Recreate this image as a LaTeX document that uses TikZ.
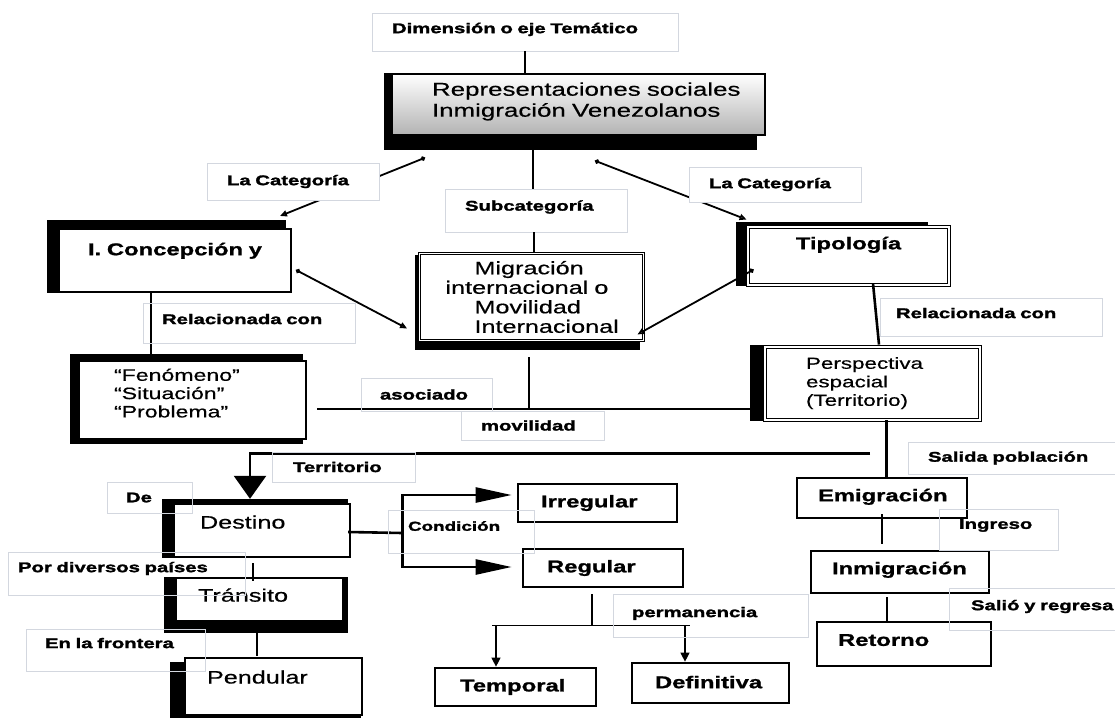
\documentclass[tikz,border=0pt]{standalone}
\usepackage{fontspec}
\setmainfont{Liberation Sans}
\newfontfamily\rfont{Liberation Sans}[FakeStretch=1.4, UprightFeatures={FakeBold=0.5}, BoldFeatures={FakeBold=1.2}]
\newfontfamily\lfont{Liberation Sans}[FakeStretch=1.45, BoldFeatures={FakeBold=1.8}]
\usetikzlibrary{arrows.meta,calc,backgrounds}
\definecolor{lbgray}{HTML}{D3D7DF}
\newcommand\padl[1]{\hspace*{#1pt}}
\newcommand\upby[1]{\rule[-#1pt]{0pt}{0pt}}
\tikzset{
  bx/.style={draw=black, fill=white, line width=2pt, inner sep=0pt, align=left},
  dbx/.style={bx, line width=0.9pt, double=white, double distance=1.4pt},
  rg/.style={font=\rfont\fontsize{18}{19.5}\selectfont},
  rgs/.style={font=\rfont\fontsize{16.5}{18.3}\selectfont},
  bd/.style={font=\rfont\bfseries\fontsize{17}{19}\selectfont},
  lb/.style={draw=lbgray, line width=0.9pt, inner sep=0pt, align=left, font=\lfont\bfseries\fontsize{14}{16}\selectfont},
  lbw/.style={lb, fill=white},
  conn/.style={line width=2.6pt},
  darr/.style={line width=1.8pt, {Circle[length=4.5pt]}-{Triangle[open,length=7pt,width=6pt]}},
  bigarr/.style={conn, -{Triangle[length=36pt,width=15pt]}},
  thinl/.style={line width=1.2pt},
  thinarr/.style={line width=1.2pt, -{Triangle[length=9pt,width=9pt]}},
}
\begin{document}
\begin{tikzpicture}[x=1pt,y=-1pt]
\useasboundingbox (0,0) rectangle (1115,717);
% ---------- boxes ----------
\node[bx, line width=1.5pt, top color=white, bottom color=black!30, minimum width=373pt, minimum height=61pt, text width=373pt, font=\rfont\fontsize{18.5}{21}\selectfont] (main) at (578.5,104.5) {\padl{40}Representaciones sociales\\\padl{40}Inmigración Venezolanos\upby{10}};
\node[bx, bd, align=center, minimum width=232pt, minimum height=63pt, text width=232pt] (conc) at (175,260.5) {I. Concepción y\upby{23}};
\node[bx, rgs, minimum width=227pt, minimum height=78pt, text width=227pt] (fen) at (192.5,400) {\padl{35}“Fenómeno”\\\padl{35}“Situación”\\\padl{35}“Problema”\upby{14}};
\node[dbx, bd, align=center, minimum width=201pt, minimum height=58pt, text width=201pt] (tip) at (848.5,256) {Tipología\upby{26}};
\node[dbx, rg, minimum width=224pt, minimum height=87pt, text width=224pt] (mig) at (531.5,297) {\padl{55}Migración\\\padl{26}internacional o\\\padl{55}Movilidad\\\padl{55}Internacional};
\node[dbx, rgs, font=\rfont\fontsize{16}{18.5}\selectfont, minimum width=215pt, minimum height=73pt, text width=215pt] (persp) at (872.5,383.5) {\padl{41}Perspectiva\\\padl{41}espacial\\\padl{41}(Territorio)\upby{4}};
\node[bx, rg, line width=2.4pt, minimum width=176pt, minimum height=53pt, text width=176pt] (dest) at (262,530.5) {\padl{26}Destino\upby{17}};
\node[bx, rg, line width=2.4pt, minimum width=167pt, minimum height=43pt, text width=167pt] (trans) at (259.5,599.5) {\padl{22}Tránsito\upby{9}};
\node[bx, rg, line width=2.4pt, minimum width=177pt, minimum height=57pt, text width=177pt] (pend) at (273.5,686.5) {\padl{22}Pendular\upby{19}};
\node[bx, bd, line width=2.7pt, minimum width=159pt, minimum height=38pt, text width=159pt] (irr) at (597.5,503) {\padl{23}Irregular};
\node[bx, bd, line width=2.7pt, minimum width=160pt, minimum height=38pt, text width=160pt] (reg) at (603,568) {\padl{24}Regular};
\node[bx, bd, line width=2.7pt, minimum width=161pt, minimum height=38pt, text width=161pt] (temp) at (515.5,687) {\padl{25}Temporal\upby{3}};
\node[bx, bd, line width=2.7pt, minimum width=157pt, minimum height=40pt, text width=157pt] (def) at (710.5,683) {\padl{23}Definitiva\upby{2}};
\node[bx, bd, minimum width=170pt, minimum height=40pt, text width=170pt] (emig) at (882,498) {\padl{21}Emigración\upby{6}};
\node[bx, bd, minimum width=178pt, minimum height=42pt, text width=178pt] (inmig) at (900,572) {\padl{21}Inmigración\upby{8}};
\node[bx, bd, minimum width=174pt, minimum height=44pt, text width=174pt] (ret) at (904,644) {\padl{21}Retorno\upby{8}};
% ---------- labels needed by connectors ----------
\node[lb, minimum width=306pt, minimum height=38pt, text width=306pt] (dim) at (525,32) {\padl{20}Dimensión o eje Temático\upby{8}};
\node[lbw, minimum width=182pt, minimum height=43pt, text width=182pt] (sub) at (536,210.5) {\padl{20}Subcategoría\upby{10}};
% ---------- connectors ----------
\coordinate (mainbot) at ($(main.south)+(0,14)$);
\draw[conn] (dim.south) -- (dim.south |- main.north);
\draw[conn] ($(mainbot -| sub.north)+(-3,0)$) -- ($(sub.north)+(-3,0)$);
\draw[conn] ($(sub.south)+(-2,0)$) -- ($(sub.south |- mig.north)+(-2,0)$);
\draw[darr] ($(main.south)+(-153.5,22)$) -- ($(conc.north east)+(-12,-12)$);
\draw[darr] ($(main.south)+(16.5,25)$) -- ($(tip.north west)+(-1,-7)$);
\draw[darr] ($(conc.east)+(4,9.5)$) -- ($(mig.south west)+(-12,-12.5)$);
\draw[darr] ($(tip.west)+(6,13.6)$) -- ($(mig.south east)+(-6.5,-6.5)$);
\draw[conn] ($(conc.south)+(-24,0)$) -- ($(fen.north)+(-41.5,-6)$);
\coordinate (hL) at ($(fen.east)+(10,9)$);
\draw[conn] (hL) -- ($(hL -| persp.west)+(-15,0)$);
\draw[conn] ($(mig.south)+(-2.5,16.5)$) -- ($(mig.south |- hL)+(-2.5,0)$);
\draw[conn] ($(tip.south)+(24.5,-2)$) -- ($(persp.north)+(6.5,-2)$);
\draw[conn] ($(persp.south)+(14,0)$) -- ($(emig.north)+(4.5,0)$);
\coordinate (terrR) at ($(persp.south)+(-2.5,33)$);
\draw[conn, -{Triangle[length=23pt,width=32pt]}] (terrR) -| ($(dest.north)+(-12,-4)$);
\draw[conn] ($(emig.south)+(0,-5)$) -- ($(emig.south |- inmig.north)+(0,-6)$);
\draw[conn] ($(inmig.south)+(-13,3)$) -- ($(ret.north)+(-17,1)$);
\coordinate (brk) at ($(dest.east)+(51,2.5)$);
\draw[conn] ($(dest.east)+(-3,1.5)$) -- (brk);
\draw[bigarr] (brk) |- ($(irr.west)+(-5,-8)$);
\draw[bigarr] (brk) |- ($(reg.west)+(-10,-1)$);
\coordinate (pj) at ($(reg.south)+(-11,37)$);
\draw[conn] ($(reg.south)+(-11,6)$) -- (pj);
\draw[thinl] ($(pj)+(-100,0)$) -- ($(pj)+(98,0)$);
\draw[thinarr] ($(temp.north |- pj)+(-19.5,0)$) -- ($(temp.north)+(-19.5,0)$);
\draw[thinarr] ($(def.north |- pj)+(-25.5,0)$) -- ($(def.north)+(-25.5,0)$);
\draw[conn] ($(dest.south)+(-9,5)$) -- ($(trans.north)+(-6.5,4)$);
\draw[conn] ($(trans.south)+(-2.5,11)$) -- ($(pend.north)+(-16.5,-1)$);
% ---------- labels ----------
\node[lbw, minimum width=172pt, minimum height=37pt, text width=172pt] (cat1) at (293,181.5) {\padl{20}La Categoría};
\node[lbw, minimum width=172pt, minimum height=35pt, text width=172pt] (cat2) at (775,184.5) {\padl{20}La Categoría};
\node[lb, minimum width=212pt, minimum height=40pt, text width=212pt] (rel1) at (249,323) {\padl{19}Relacionada con\upby{8}};
\node[lb, minimum width=222pt, minimum height=38pt, text width=222pt] (rel2) at (991,317) {\padl{16}Relacionada con\upby{8}};
\node[lb, minimum width=131pt, minimum height=33pt, text width=131pt] (asoc) at (426.5,394.5) {\padl{19}asociado};
\node[lb, minimum width=143pt, minimum height=29pt, text width=143pt] (movil) at (532.5,425.5) {\padl{20}movilidad};
\node[lb, minimum width=143pt, minimum height=30pt, text width=143pt] (terr) at (343.5,467) {\padl{21}Territorio};
\node[lb, minimum width=85pt, minimum height=31pt, text width=85pt] (de) at (149.5,497.5) {\padl{19}De};
\node[lb, minimum width=237pt, minimum height=43pt, text width=237pt] (por) at (126.5,573.5) {\padl{10}Por diversos países\upby{13}};
\node[lb, minimum width=179pt, minimum height=42pt, text width=179pt] (enfr) at (115.5,650) {\padl{19}En la frontera\upby{14}};
\node[lb, font=\lfont\bfseries\fontsize{13}{15}\selectfont, minimum width=146pt, minimum height=43pt, text width=146pt] (cond) at (461,531.5) {\padl{20}Condición\upby{11}};
\node[lb, minimum width=195pt, minimum height=43pt, text width=195pt] (perm) at (710.5,615.5) {\padl{19}permanencia\upby{7}};
\node[lb, minimum width=217pt, minimum height=32pt, text width=217pt] (salida) at (1016.5,458) {\padl{20}Salida población};
\node[lb, minimum width=119pt, minimum height=41pt, text width=119pt] (ingreso) at (998.5,529.5) {\padl{20}Ingreso\upby{11}};
\node[lb, minimum width=176pt, minimum height=42pt, text width=176pt] (salio) at (1037,609) {\padl{22}Salió y regresa\upby{8}};
% ---------- background and shadows ----------
\begin{scope}[on background layer]
\fill[white] (0,0) rectangle (1115,717);
\fill[black] ($(main.north west)+(-7,0)$) rectangle ($(main.south east)+(-9,14)$);
\fill[black] ($(conc.north west)+(-11,-8)$) rectangle ($(conc.south east)+(-6,0)$);
\fill[black] ($(fen.north west)+(-8,-6)$) rectangle ($(fen.south east)+(-4,4)$);
\fill[black] ($(tip.north west)+(-12,-5)$) rectangle ($(tip.south east)+(-21,1)$);
\fill[black] ($(persp.north west)+(-15,-2)$) rectangle ($(persp.south east)+(-18,1)$);
\fill[black] ($(mig.north west)+(-4.5,1.5)$) rectangle ($(mig.south east)+(-3.5,9.5)$);
\fill[black] ($(dest.north west)+(-11,-4)$) rectangle ($(dest.south east)+(-3,0)$);
\fill[black] ($(trans.north west)+(-11,0)$) rectangle ($(trans.south east)+(4,11)$);
\fill[black] ($(pend.north west)+(-14,5)$) rectangle ($(pend.south east)+(-2,5)$);
\end{scope}
\end{tikzpicture}
\end{document}
